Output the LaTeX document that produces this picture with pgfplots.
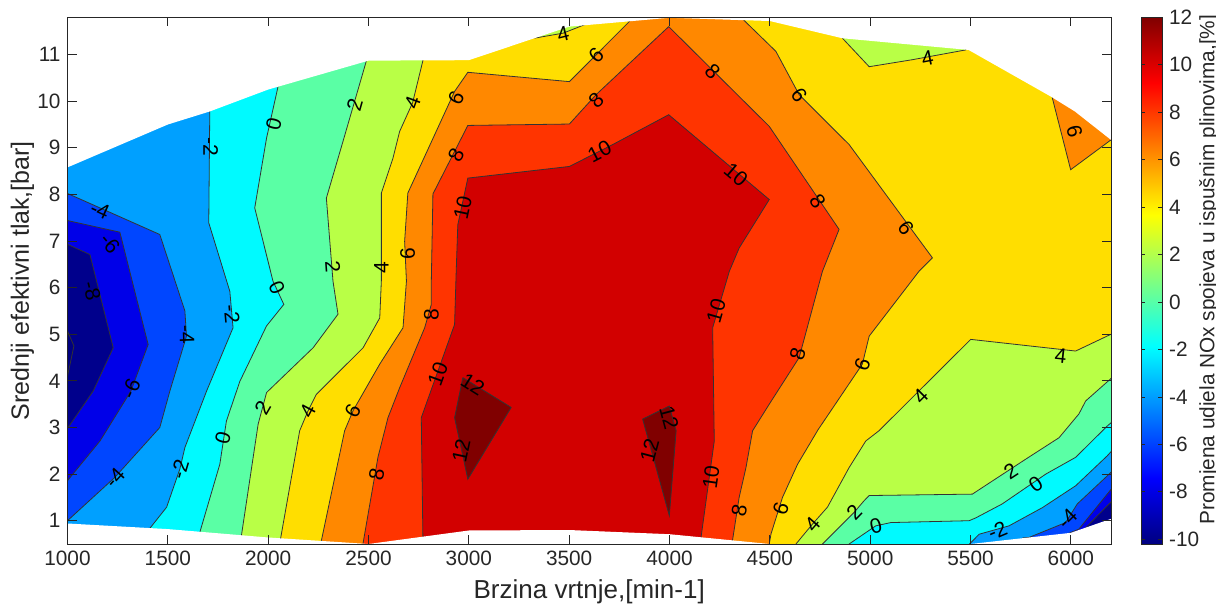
\documentclass[border=0pt]{standalone}
\usepackage{pgfplots}
\pgfplotsset{compat=1.18}
\usepackage{fontspec}
\setmainfont{Liberation Sans}
\definecolor{cb}{RGB}{0,0,128}
\definecolor{cm10}{RGB}{0,0,140}
\definecolor{cm8}{RGB}{0,0,232}
\definecolor{cm6}{RGB}{0,70,255}
\definecolor{cm4}{RGB}{0,160,255}
\definecolor{cm2}{RGB}{0,250,255}
\definecolor{c0}{RGB}{90,255,165}
\definecolor{c2}{RGB}{185,255,70}
\definecolor{c4}{RGB}{255,222,0}
\definecolor{c6}{RGB}{255,136,0}
\definecolor{c8}{RGB}{255,52,0}
\definecolor{c10}{RGB}{210,0,0}
\definecolor{c12}{RGB}{128,0,0}
\newcommand\lblfont{\fontsize{10.5}{12}\selectfont}
\newcommand\cl[4]{\node[rotate=#3,font=\lblfont,inner sep=0pt,text=black] at (axis cs:#1,#2) {#4};}
\begin{document}
\begin{tikzpicture}
\path[use as bounding box] (-33.75pt,-31.5pt) rectangle (574.25pt,272pt);
\begin{axis}[
  scale only axis, width=521.75pt, height=263.35pt,
  xmin=1000, xmax=6200, ymin=0.5, ymax=11.8,
  xtick={1000,1500,...,6000}, ytick={1,2,...,11},
  tick align=inside, major tick length=4.5pt,
  axis on top,
  axis line style={draw=black!85, line width=0.4pt},
  every tick/.style={black!85, line width=0.4pt},
  tick label style={font=\fontsize{10.4}{12}\selectfont, text=black!85},
  /pgf/number format/assume math mode=true,
  /pgf/number format/1000 sep={},
  xlabel={Brzina vrtnje,[min-1]},
  ylabel={Srednji efektivni tlak,[bar]},
  every axis x label/.style={at={(axis description cs:0.5,0)}, anchor=center, yshift=-24pt,
    font=\fontsize{13}{15}\selectfont, text=black!85},
  every axis y label/.style={at={(axis description cs:0,0.5)}, anchor=center, xshift=-22.5pt, rotate=90,
    font=\fontsize{12.5}{14}\selectfont, text=black!85},
  colorbar, colormap/jet, point meta min=-10.2, point meta max=12,
  colorbar style={at={(parent axis.north east)}, anchor=north west, xshift=6.5pt,
    width=10.5pt, ytick={-10,-8,...,12}, tick align=inside, major tick length=2pt,
    axis line style={draw=black!85},
    /pgf/number format/assume math mode=true,
    yticklabel style={font=\fontsize{10.4}{12}\selectfont, text=black!85},
    ylabel={Promjena udjela NOx spojeva u ispušnim plinovima,[\%]},
    every axis y label/.style={at={(axis description cs:1,0.5)}, anchor=center, xshift=23.5pt, yshift=5.5pt, rotate=90,
      font=\fontsize{10.4}{12}\selectfont, text=black!85}},
]
% base
\addplot[fill=cb, draw=none] coordinates {(900,0) (6400,0) (6400,13) (900,13)};
% z > -10
\addplot[fill=cm10, draw=black!80, line width=0.4pt] coordinates {(900,0) (900,4.10) (1000,4.10) (1032,4.75) (1000,5.07) (900,5.07) (900,13) (6400,13) (6400,0) (900,0)};
% z > -8
\addplot[fill=cm8, draw=black!80, line width=0.4pt] coordinates {(900,0) (900,2.98) (1000,2.98) (1128,3.78) (1228,4.71) (1112,6.71) (1000,6.93) (900,6.93) (900,13) (6400,13) (6400,1.40) (6200,1.40) (6181,1.32) (6074,0.85) (6074,0) (900,0)};
% z > -6
\addplot[fill=cm6, draw=black!80, line width=0.4pt] coordinates {(900,0) (900,1.86) (1000,1.86) (1162,2.71) (1316,3.78) (1402,4.78) (1261,7.19) (1000,7.44) (900,7.44) (900,13) (6400,13) (6400,1.67) (6200,1.67) (6181,1.57) (6040,0.82) (5990,0.73) (5990,0) (900,0)};
% z > -4
\addplot[fill=cm4, draw=black!80, line width=0.4pt] coordinates {(900,0) (900,1.0) (1000,1.0) (1236,1.93) (1460,3.00) (1510,3.78) (1593,4.96) (1585,5.50) (1460,7.14) (1000,8.02) (900,8.02) (900,13) (6400,13) (6400,2.04) (6200,2.04) (6181,1.96) (6032,1.36) (5974,0.96) (5791,0.64) (5760,0.63) (5760,0) (900,0)};
% z > -2
\addplot[fill=cm2, draw=black!80, line width=0.4pt] coordinates {(1411,0) (1411,0.84) (1494,1.29) (1560,2.11) (1585,2.57) (1693,3.78) (1825,5.14) (1809,5.92) (1704,7.39) (1709,9.78) (1709,13) (6400,13) (6400,2.48) (6200,2.48) (6181,2.39) (6024,1.75) (5858,1.28) (5692,0.89) (5543,0.71) (5495,0.5) (5495,0) (1411,0)};
% z > 0
\addplot[fill=c0, draw=black!80, line width=0.4pt] coordinates {(1660,0) (1660,0.76) (1759,2.21) (1792,3.14) (1859,3.99) (1992,5.18) (2078,5.64) (2024,6.14) (1933,7.71) (1992,9.21) (2049,10.31) (2049,13) (6400,13) (6400,3.1) (6200,3.1) (6181,3.03) (6024,2.36) (5875,2.0) (5658,1.36) (5526,1.06) (5493,1.0) (5103,0.96) (5028,0.89) (4895,0.5) (4895,0) (1660,0)};
% z > 2
\addplot[fill=c2, draw=black!80, line width=0.4pt] coordinates {(1867,0) (1867,0.69) (1950,3.07) (1992,3.75) (2224,4.71) (2348,5.43) (2323,6.14) (2290,7.92) (2373,9.14) (2489,10.86) (2489,13) (6400,13) (6400,4.05) (6200,4.05) (6074,3.57) (6040,3.29) (5941,2.78) (5775,2.32) (5509,1.57) (4995,1.54) (4970,1.43) (4920,1.18) (4762,0.5) (4762,0) (1867,0)};
% z > 4
\addplot[fill=c4, draw=black!80, line width=0.4pt] coordinates {(2062,0) (2062,0.62) (2157,2.93) (2199,3.36) (2240,3.71) (2473,4.71) (2556,5.35) (2564,6.14) (2564,8.03) (2622,8.78) (2655,9.35) (2720,9.97) (2771,10.87) (2771,13) (3330,13) (3330,11.355) (3470,11.46) (3576,11.64) (3576,13) (4862,13) (4862,11.35) (4995,10.74) (5210,10.89) (5476,11.10) (5476,13) (6400,13) (6400,5.0) (6200,5.0) (6024,4.64) (5501,4.89) (5044,2.93) (4978,2.71) (4895,2.14) (4787,1.29) (4713,0.93) (4630,0.5) (4630,0) (2062,0)};
% z > 6
\addplot[fill=c6, draw=black!80, line width=0.4pt] coordinates {(2265,0) (2265,0.57) (2381,2.93) (2423,3.36) (2556,4.36) (2672,5.14) (2689,6.14) (2680,6.99) (2696,8.03) (2929,10.21) (2995,10.62) (3501,10.42) (3800,11.71) (3800,13) (4370,13) (4370,11.74) (4530,11.07) (4646,10.14) (4895,9.07) (5310,6.64) (5243,6.35) (4995,4.96) (4961,4.36) (4740,2.95) (4638,2.21) (4563,1.50) (4506,0.72) (4497,0.5) (4497,0) (2265,0)};
\addplot[fill=c6, draw=black!80, line width=0.4pt] coordinates {(5907,13) (5907,10.08) (5999,8.53) (6200,9.17) (6400,9.17) (6400,13) (5907,13)};
% z > 8
\addplot[fill=c8, draw=black!80, line width=0.4pt] coordinates {(2473,0) (2473,0.52) (2547,2.36) (2597,3.21) (2655,3.85) (2780,5.14) (2813,5.64) (2813,6.14) (2821,8.01) (2995,9.48) (3501,9.51) (3634,10.14) (3996,11.60) (4497,9.46) (4845,7.25) (4762,6.35) (4646,4.50) (4497,3.50) (4414,2.93) (4381,2.14) (4347,1.50) (4314,0.58) (4314,0) (2473,0)};
% z > 10
\addplot[fill=c10, draw=black!80, line width=0.4pt] coordinates {(2771,0) (2771,0.66) (2763,3.21) (2929,5.21) (2937,6.35) (2945,7.35) (2995,8.35) (3501,8.60) (3717,9.07) (3996,9.71) (4497,7.89) (4347,6.85) (4298,6.35) (4215,5.14) (4223,2.71) (4157,0.64) (4157,0) (2771,0)};
% z > 12
\addplot[fill=c12, draw=black!80, line width=0.4pt] coordinates {(2970,4.07) (3211,3.43) (2995,1.89) (2929,3.21) (2970,4.07)};
\addplot[fill=c12, draw=black!80, line width=0.4pt] coordinates {(3866,3.18) (3999,3.46) (4033,2.93) (3999,1.11) (3866,3.18)};
% masks outside data hull
\addplot[fill=white, draw=none] coordinates {(900,8.58) (1000,8.58) (1500,9.5) (1709,9.78) (2000,10.25) (2500,10.87) (3000,10.88) (3500,11.6) (4000,11.79) (4500,11.72) (4862,11.35) (5490,11.1) (5900,10.1) (6020,9.78) (6200,9.17) (6400,9.17) (6400,13) (900,13)};
\addplot[fill=white, draw=none] coordinates {(900,0.94) (1000,0.94) (1500,0.82) (2000,0.64) (2500,0.5) (3000,0.79) (3500,0.8) (4000,0.71) (4500,0.5) (5500,0.5) (6000,0.74) (6200,1.04) (6400,1.04) (6400,0) (900,0)};
% contour labels
\cl{1162}{7.66}{-24}{-4}
\cl{1212}{6.95}{-50}{-6}
\cl{1122}{5.93}{-76}{-8}
\cl{1595}{5.0}{-88}{-4}
\cl{1714}{9.03}{-90}{-2}
\cl{1819}{5.43}{-85}{-2}
\cl{2028}{9.50}{76}{0}
\cl{2043}{5.99}{-65}{0}
\cl{2431}{9.93}{74}{2}
\cl{2322}{6.44}{-86}{2}
\cl{2720}{9.97}{70}{4}
\cl{2564}{6.43}{90}{4}
\cl{2695}{6.72}{90}{6}
\cl{2937}{10.07}{63}{6}
\cl{2937}{8.85}{63}{8}
\cl{2970}{7.71}{78}{10}
\cl{3470}{11.45}{14}{4}
\cl{3634}{10.99}{45}{6}
\cl{3634}{10.03}{45}{8}
\cl{3651}{8.92}{27}{10}
\cl{4215}{10.64}{-45}{8}
\cl{4331}{8.42}{-40}{10}
\cl{4646}{10.14}{-55}{6}
\cl{4738}{7.85}{-56}{8}
\cl{5178}{7.28}{-54}{6}
\cl{5285}{10.92}{11}{4}
\cl{6018}{9.35}{-76}{6}
\cl{2813}{5.43}{90}{8}
\cl{2846}{4.14}{70}{10}
\cl{3020}{3.93}{-32}{12}
\cl{2962}{2.50}{78}{12}
\cl{3999}{3.21}{-75}{12}
\cl{3900}{2.50}{75}{12}
\cl{4232}{5.50}{74}{10}
\cl{4207}{1.93}{82}{10}
\cl{4348}{1.21}{80}{8}
\cl{4555}{1.25}{72}{6}
\cl{4713}{0.93}{49}{4}
\cl{4920}{1.18}{46}{2}
\cl{5028}{0.89}{15}{0}
\cl{4638}{4.57}{75}{8}
\cl{4961}{4.35}{70}{6}
\cl{5252}{3.68}{45}{4}
\cl{5949}{4.53}{-6}{4}
\cl{5700}{2.07}{33}{2}
\cl{5825}{1.79}{35}{0}
\cl{5634}{0.79}{23}{-2}
\cl{5982}{1.04}{45}{-4}
\cl{1236}{1.92}{48}{-4}
\cl{1316}{3.83}{66}{-6}
\cl{1560}{2.11}{73}{-2}
\cl{1774}{2.78}{75}{0}
\cl{1973}{3.42}{60}{2}
\cl{2197}{3.36}{62}{4}
\cl{2421}{3.36}{62}{6}
\cl{2540}{2.00}{79}{8}
\end{axis}
\end{tikzpicture}
\end{document}
